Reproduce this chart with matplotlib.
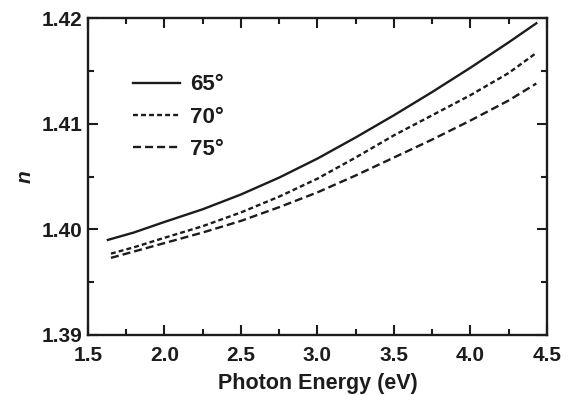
import matplotlib
matplotlib.use("Agg")
import matplotlib.pyplot as plt
from matplotlib.ticker import MultipleLocator, FormatStrFormatter

# ============================================================ #
# Data
# ============================================================ #
energy_65 = [1.63, 1.8, 2.0, 2.25, 2.5, 2.75, 3.0, 3.25, 3.5, 3.75, 4.0, 4.25, 4.43]
n_65 = [1.3990, 1.3997, 1.4007, 1.4019, 1.4033, 1.4049, 1.4067, 1.4087, 1.4108,
        1.4130, 1.4153, 1.4177, 1.4195]

energy_70 = [1.65, 1.8, 2.0, 2.25, 2.5, 2.75, 3.0, 3.25, 3.5, 3.75, 4.0, 4.25, 4.43]
n_70 = [1.3977, 1.3983, 1.3992, 1.4003, 1.4016, 1.4031, 1.4048, 1.4068, 1.4089,
        1.4108, 1.4127, 1.4148, 1.4167]

energy_75 = [1.65, 1.8, 2.0, 2.25, 2.5, 2.75, 3.0, 3.25, 3.5, 3.75, 4.0, 4.25, 4.43]
n_75 = [1.3973, 1.3979, 1.3987, 1.3997, 1.4008, 1.4021, 1.4035, 1.4051, 1.4068,
        1.4085, 1.4103, 1.4122, 1.4138]

labels = ["65°", "70°", "75°"]

# ============================================================ #
# Style
# ============================================================ #
plt.rcParams["font.family"] = ["Liberation Sans", "DejaVu Sans"]
plt.rcParams["font.weight"] = "bold"
ink = "#1c1c1c"

fig = plt.figure(figsize=(5.72, 3.95), dpi=100)
ax = fig.add_axes([0.1538, 0.1519, 0.8025, 0.8025])

lw = 1.7
ax.plot(energy_65, n_65, color=ink, lw=lw, linestyle="-", label=labels[0])
ax.plot(energy_70, n_70, color=ink, lw=lw, linestyle=(0, (2.1, 1.3)), label=labels[1])
ax.plot(energy_75, n_75, color=ink, lw=lw, linestyle=(0, (3.4, 1.7)), label=labels[2])

ax.set_xlim(1.5, 4.5)
ax.set_ylim(1.39, 1.42)
ax.xaxis.set_major_locator(MultipleLocator(0.5))
ax.xaxis.set_minor_locator(MultipleLocator(0.25))
ax.yaxis.set_major_locator(MultipleLocator(0.01))
ax.yaxis.set_minor_locator(MultipleLocator(0.005))
ax.yaxis.set_major_formatter(FormatStrFormatter("%.2f"))
ax.xaxis.set_major_formatter(FormatStrFormatter("%.1f"))

for side in ax.spines.values():
    side.set_linewidth(1.7)
    side.set_color(ink)

ax.tick_params(which="both", direction="in", top=True, right=True, colors=ink,
               width=1.5, labelsize=15)
ax.tick_params(which="major", length=7.5)
ax.tick_params(which="minor", length=4.5)
ax.tick_params(axis="x", pad=8)
ax.tick_params(axis="y", pad=4)

ax.set_xlabel("Photon Energy (eV)", fontsize=15.5, fontweight="bold", color=ink,
              labelpad=6)
ax.set_ylabel("n", fontsize=15, fontweight="bold", fontstyle="italic", color=ink,
              labelpad=5)

ax.legend(loc="upper left", bbox_to_anchor=(0.098, 0.822), frameon=False,
          borderaxespad=0, borderpad=0, fontsize=16, handlelength=2.1,
          handletextpad=0.45, labelspacing=0.5, labelcolor=ink)

fig.savefig("out.png", dpi=100)
